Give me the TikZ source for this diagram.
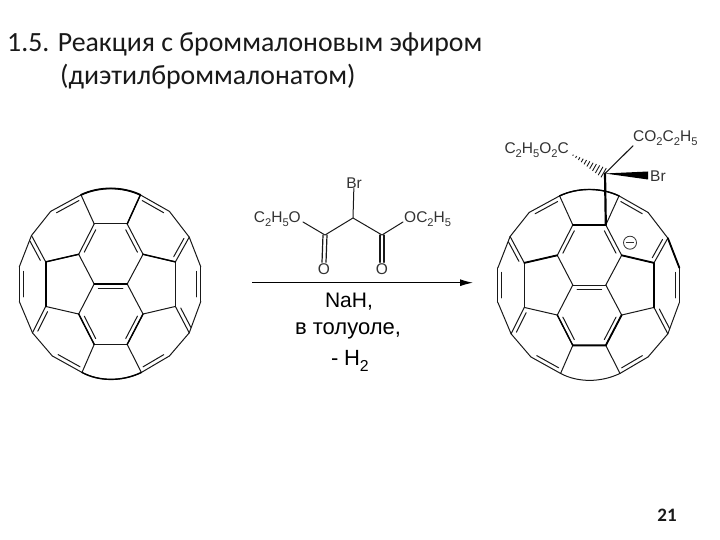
\documentclass[tikz,border=0pt]{standalone}
\usepackage{fontspec}
\setmainfont{Carlito}
\newfontfamily\arialf{Liberation Sans}
\usetikzlibrary{calc,arrows.meta}
\newcommand{\lowi}[1]{\raisebox{-0.28em}{\scalebox{0.72}{#1}}}
\newcommand{\dbl}[2]{\draw[bondthin] ($(#1)!.13!(#2)!4pt!90:(#2)$) -- ($(#2)!.13!(#1)!4pt!-90:(#1)$);}
\newcommand{\cage}[2]{%
\begin{scope}[shift={(#1,#2)},scale=0.33]
\foreach \n/\p in {A/{-50,-182},B/{50,-182},C/{98,-90},D/{50,0},E/{-50,0},F/{-97,-90},G/{98,91},H/{50,183},I/{-50,183},J/{-97,91},K/{-197,68},L/{-197,-67},M/{196,68},N/{196,-67},P/{90,-270},Q/{-90,-270},R/{-87,268},S/{93,268},T/{-240,-147},U/{-182,-220},V/{238,-142},W/{178,-220},X/{-177,218},Y/{-237,148},Z/{178,218},AA/{238,148},LA/{-277,-52},LB/{-277,53},RA/{273,-52},RB/{273,53},TA/{-35,-296},TB/{35,-296},BA/{-35,296},BB/{35,296}}
  {\coordinate (\n) at (\p);}
\end{scope}
\foreach \a/\b in {A/B,B/C,C/D,D/E,E/F,F/A,D/G,G/H,H/I,I/J,J/E,F/L,L/K,K/J,C/N,N/M,M/G,A/Q,B/P,I/R,H/S,Q/U,U/T,T/L,P/W,W/V,V/N,K/Y,Y/X,X/R,M/AA,AA/Z,Z/S,T/LA,LA/LB,LB/Y,V/RA,RA/RB,RB/AA}
  {\draw[bondthin] (\a) -- (\b);}
\draw[bondthin] (Q) .. controls (TA) and (TB) .. (P);
\draw[bondthin] (R) .. controls (BA) and (BB) .. (S);
\dbl{A}{F}\dbl{C}{B}\dbl{D}{E}\dbl{J}{I}\dbl{H}{G}\dbl{Q}{U}\dbl{W}{P}\dbl{L}{T}\dbl{N}{V}\dbl{K}{Y}\dbl{M}{AA}\dbl{X}{R}\dbl{S}{Z}\dbl{LA}{LB}\dbl{RB}{RA}
}
\tikzset{
  bondthin/.style={line width=1pt,black!90,line cap=round,line join=round},
  bondheavy/.style={line width=1.8pt,black,line cap=round,line join=round},
  chem/.style={font=\arialf\fontsize{15.5}{15.5}\selectfont,text=black!80,inner sep=0pt},
  cond/.style={font=\arialf,text=black,inner sep=0pt},
  title/.style={font=\fontsize{27.8}{27.8}\selectfont,anchor=base west,inner sep=0pt,text=black!90}
}
\begin{document}
\begin{tikzpicture}[x=1pt,y=-1pt]
\useasboundingbox (0,0) rectangle (720,540);
\fill[white] (0,0) rectangle (720,540);
\node[title] (t1) at (7,52) {1.5. Реакция с броммалоновым эфиром};
\node[title] (t2) at (60,85) {(диэтилброммалонатом)};
\node[font=\bfseries\fontsize{19}{19}\selectfont,inner sep=0pt,text=black!90] (pg) at (667,515) {21};

% left cage
\cage{110.7}{284}
\draw[bondheavy] (L) -- (K);
\draw[bondheavy] (E) -- (D);
\draw[bondheavy] (Q) .. controls (TA) and (TB) .. (P);
\draw[bondheavy,line width=1.4pt] (R) .. controls (BA) and (BB) .. (S);
\draw[bondheavy,line width=1.4pt] (P) -- (B) (G) -- (H) (J) -- (I) (F) -- (L) (C) -- (N);

% malonate
\node[chem] (br1) at (354,183) {Br};
\coordinate (c0) at (353,218);
\coordinate (c1) at (325,235);
\coordinate (c2) at (382,235);
\node[chem,anchor=east] (o1) at (301,219) {C\lowi{2}H\lowi{5}O};
\node[chem,anchor=west] (o2) at (404,219) {OC\lowi{2}H\lowi{5}};
\node[chem] (o3) at (324,269) {O};
\node[chem] (o4) at (382,269) {O};
\draw[bondthin] (br1) -- (c0);
\draw[bondthin] (o1.east) ++(2,3) -- (c1) -- (c0) -- (c2) -- ($(o2.west)+(-1,3)$);
\draw[bondthin,line width=1.2pt] ($(c1)+(-2,0)$) -- ($(o3.north)+(-2,-1)$) ($(c1)+(2,0)$) -- ($(o3.north)+(2,-1)$);
\draw[bondthin,line width=1.2pt] ($(c2)+(-2,0)$) -- ($(o4.north)+(-2,-1)$) ($(c2)+(2,0)$) -- ($(o4.north)+(2,-1)$);

% arrow
\coordinate (a0) at (252,282.7);
\coordinate (a1) at (473,282.7);
\draw[line width=1.1pt,-{Latex[length=13pt,width=7pt]}] (a0) -- (a1);
\node[cond,font=\arialf\fontsize{21}{21}\selectfont] (na) at (349,302) {NaH,};
\node[cond,font=\arialf\fontsize{22}{22}\selectfont] (tol) at (348,331) {в толуоле,};
\node[cond,font=\arialf\fontsize{22}{22}\selectfont,anchor=west] (h2) at (331,361) {-\hspace{0.25em}H\lowi{2}};

% right cage
\cage{589.3}{285}
\coordinate (cc) at (605,173.5);
\draw[bondheavy] (A) -- (B) (H) -- (I) (N) -- (M) (F) -- (L) (C) -- (N) (V) -- (RA) (G) -- (H);
\draw[bondheavy,line width=1.4pt] (J) -- (I) (Q) .. controls (TA) and (TB) .. (P);
\draw[white,line width=7pt,shorten >=36pt,shorten <=10pt] (cc) -- (B);
\draw[bondheavy,line width=2.2pt] (cc) -- (B);
\node[chem,anchor=east] (es1) at (569,150) {C\lowi{2}H\lowi{5}O\lowi{2}C};
\node[chem,anchor=west] (es2) at (633,138) {CO\lowi{2}C\lowi{2}H\lowi{5}};
\node[chem,anchor=west] (br2) at (650,176) {Br};
\draw[bondthin,line width=1.1pt] (cc) -- (es2.south west);
\fill (cc) -- ($(br2.west)+(-2,-4.5)$) -- ($(br2.west)+(-2,3.5)$) -- cycle;
\coordinate (hs) at (571,154);
\foreach \t in {0.04,0.13,...,0.95}{
  \pgfmathsetmacro{\w}{5.2*(1-\t)+0.3}
  \draw[line width=0.9pt,black!90] ($(cc)!\t!(hs)!\w pt!90:(hs)$) -- ($(cc)!\t!(hs)!\w pt!-90:(hs)$);
}
\node[draw,circle,minimum size=13pt,inner sep=0pt,line width=0.8pt,black!80] (neg) at (630,242.7) {};
\draw[line width=0.9pt,black!80] (neg.west) ++(2.5,0) -- ($(neg.east)+(-2.5,0)$);
\end{tikzpicture}
\end{document}
